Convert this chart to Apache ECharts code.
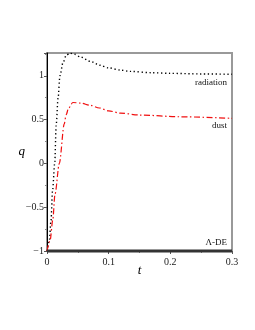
<!DOCTYPE html>
<html>
<head>
<meta charset="utf-8">
<script src="https://cdn.jsdelivr.net/npm/echarts@6/dist/echarts.min.js"></script>
<style>html,body{margin:0;padding:0;background:#fff;}#c{width:255px;height:330px;}</style>
</head>
<body>
<div id="c"></div>
<script>
var radT = [0, 0.0038, 0.0065, 0.009, 0.0125, 0.015, 0.018, 0.021, 0.026, 0.031, 0.037, 0.045, 0.054, 0.07, 0.086, 0.1, 0.119, 0.135, 0.17, 0.2, 0.25, 0.3];
var radQ = [-1, -0.88, -0.65, -0.31, 0, 0.45, 0.75, 1.0, 1.15, 1.23, 1.26, 1.245, 1.215, 1.165, 1.12, 1.09, 1.065, 1.05, 1.035, 1.028, 1.021, 1.017];
var dustT = [0, 0.005, 0.0093, 0.013, 0.020, 0.028, 0.031, 0.035, 0.042, 0.055, 0.07, 0.085, 0.1, 0.119, 0.15, 0.217, 0.3];
var dustQ = [-1, -0.88, -0.65, -0.35, 0, 0.45, 0.555, 0.63, 0.695, 0.688, 0.663, 0.632, 0.6, 0.574, 0.552, 0.532, 0.514];
var deT = [0, 0.3];
var deQ = [-1, -1];
var xTicks = [0, 0.1, 0.2, 0.3];
var yTicks = [-1, -0.5, 0, 0.5, 1];
var labels = ['radiation', 'dust', 'Λ-DE'];

function pairs(a, b) { return a.map(function (v, i) { return [v, b[i]]; }); }
function fmt(v) {
  var r = Math.round(v * 100) / 100;
  return String(r).replace('-', '\u2212');
}
var serif = 'Liberation Serif';
var chart = echarts.init(document.getElementById('c'), null, {renderer: 'canvas'});
chart.setOption({
  animation: false,
  grid: {left: 47, right: 23, top: 53, bottom: 79, show: true, borderColor: '#999', borderWidth: 2, backgroundColor: 'transparent'},
  xAxis: {
    type: 'value', min: 0, max: 0.3, interval: 0.1,
    name: 't', nameLocation: 'middle', nameGap: 13, nameMoveOverlap: false,
    nameTextStyle: {fontFamily: serif, fontStyle: 'italic', fontSize: 13, color: '#000'},
    axisLine: {show: false, onZero: false},
    axisTick: {show: true, length: 3, lineStyle: {color: '#555'}},
    minorTick: {show: true, splitNumber: 2, length: 2, lineStyle: {color: '#888'}},
    splitLine: {show: false},
    axisLabel: {fontFamily: serif, fontSize: 10, color: '#222', margin: 6,
      formatter: function (v) { return xTicks.indexOf(Math.round(v * 10) / 10) >= 0 ? fmt(v) : ''; }}
  },
  yAxis: {
    type: 'value', min: -1, max: 1.26, interval: 0.5,
    name: 'q', nameLocation: 'middle', nameGap: 22, nameRotate: 0, nameMoveOverlap: false,
    nameTextStyle: {fontFamily: serif, fontStyle: 'italic', fontSize: 13, color: '#000'},
    axisLine: {show: true, onZero: false, lineStyle: {color: '#000', width: 1}},
    axisTick: {show: true, length: 3, lineStyle: {color: '#555'}},
    minorTick: {show: true, splitNumber: 2, length: 2, lineStyle: {color: '#888'}},
    splitLine: {show: false},
    axisLabel: {fontFamily: serif, fontSize: 10, color: '#222', margin: 3, showMaxLabel: false,
      formatter: function (v) { return yTicks.indexOf(v) >= 0 ? fmt(v) : ''; }}
  },
  series: [
    {type: 'line', data: pairs(radT, radQ), smooth: 0.3, smoothMonotone: 'x', symbol: 'none',
      lineStyle: {color: '#000', width: 1.4, type: [1.3, 2.6]}},
    {type: 'line', data: pairs(dustT, dustQ), smooth: 0.3, smoothMonotone: 'x', symbol: 'none',
      lineStyle: {color: '#f01010', width: 1.2, type: [6, 2.5, 1.5, 2.5]}},
    {type: 'line', data: pairs(deT, deQ), symbol: 'none', clip: false,
      lineStyle: {color: '#333', width: 3}}
  ],
  graphic: [
    {type: 'text', right: 28, top: 78, style: {text: labels[0], font: '9px "Liberation Serif"', fill: '#111'}},
    {type: 'text', right: 28, top: 121, style: {text: labels[1], font: '9px "Liberation Serif"', fill: '#111'}},
    {type: 'text', right: 28, top: 238, style: {text: labels[2], font: '9px "Liberation Serif"', fill: '#111'}}
  ]
});
</script>
</body>
</html>
